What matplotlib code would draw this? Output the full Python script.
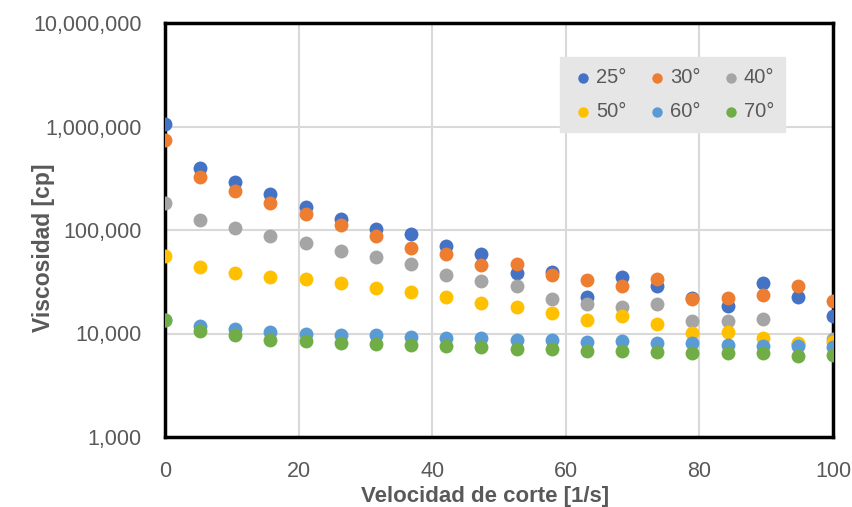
import matplotlib
matplotlib.use("Agg")
import matplotlib.pyplot as plt
from matplotlib.ticker import FixedLocator, FuncFormatter, NullLocator

x = [0, 5.26, 10.53, 15.79, 21.05, 26.32, 31.58, 36.84, 42.11, 47.37,
     52.63, 57.89, 63.16, 68.42, 73.68, 78.95, 84.21, 89.47, 94.74, 100]

v25 = [1050000, 394000, 288000, 222000, 167000, 129000, 102000, 91000, 70500, 58000,
       38500, 39000, 22500, 35000, 29000, 22000, 18600, 30800, 22500, 14900]
v30 = [743000, 327000, 239000, 182000, 142000, 111000, 87500, 67000, 59000, 45700,
       47000, 37000, 33000, 29000, 33600, 21700, 22000, 23400, 28600, 20800]
v40 = [184000, 124000, 104000, 87000, 75000, 63000, 55000, 46800, 37000, 32400,
       28600, 21700, 19300, 17900, 19300, 13300, 13300, 13800, 8000, 8900]
v50 = [55500, 44000, 38800, 35000, 33400, 30500, 27500, 25000, 22500, 19700,
       17900, 15700, 13400, 14600, 12400, 10100, 10450, 9100, 8050, 8360]
v60 = [13400, 11900, 11100, 10300, 9900, 9700, 9700, 9350, 9050, 9000,
       8700, 8700, 8360, 8500, 8050, 8050, 7760, 7640, 7640, 7480]
v70 = [13400, 10600, 9700, 8750, 8500, 8050, 7870, 7800, 7600, 7360,
       7040, 7040, 6840, 6840, 6580, 6440, 6440, 6440, 6100, 6200]

labels = ["25°", "30°", "40°", "50°", "60°", "70°"]
series = [v25, v30, v40, v50, v60, v70]
colors = ["#4472C4", "#ED7D31", "#A5A5A5", "#FFC000", "#5B9BD5", "#70AD47"]

x_ticks = [0, 20, 40, 60, 80, 100]
y_ticks = [1e3, 1e4, 1e5, 1e6, 1e7]

plt.rcParams['font.family'] = ['Liberation Sans', 'DejaVu Sans']

fig = plt.figure(figsize=(8.52, 5.07), dpi=100)
ax = fig.add_axes([165 / 852, 1 - 437 / 507, (833 - 165) / 852, (437 - 23) / 507])

handles = []
for lab, vals, c in zip(labels, series, colors):
    h = ax.scatter(x, vals, s=100, color=c, label=lab, zorder=3, linewidths=0)
    handles.append(h)

ax.set_yscale('log')
ax.set_xlim(0, 100)
ax.set_ylim(1e3, 1e7)
ax.xaxis.set_major_locator(FixedLocator(x_ticks))
ax.yaxis.set_major_locator(FixedLocator(y_ticks))
ax.yaxis.set_minor_locator(NullLocator())
ax.yaxis.set_major_formatter(FuncFormatter(lambda v, p: f"{int(round(v)):,}"))
ax.xaxis.set_major_formatter(FuncFormatter(lambda v, p: f"{int(v)}"))
ax.grid(True, color="#D9D9D9", linewidth=1.5, zorder=0)
ax.set_axisbelow(True)
for sp in ax.spines.values():
    sp.set_color("black")
    sp.set_linewidth(2.5)
ax.tick_params(length=0, labelsize=15.5, colors="#595959", pad=17)

ax.set_xlabel("Velocidad de corte [1/s]", fontsize=16, fontweight='bold', color="#595959")
ax.set_ylabel("Viscosidad [cp]", fontsize=16.5, fontweight='bold', color="#595959")
ax.xaxis.set_label_coords((485 - 165) / 668, (437 - 486) / 414)
ax.yaxis.set_label_coords((55 - 165) / 668, 1 - (248 - 23) / 414)

# row-major legend order (matplotlib fills column-first)
order = [0, 3, 1, 4, 2, 5]
leg = ax.legend([handles[i] for i in order], [labels[i] for i in order],
                ncol=3, loc='upper left', bbox_to_anchor=((560 - 165) / 668, 1 - (57 - 23) / 414),
                frameon=True, fontsize=14.5, handletextpad=0.05, columnspacing=0.9, borderpad=0.55,
                labelspacing=0.75, markerscale=0.75, handlelength=1.2, fancybox=False,
                borderaxespad=0)
leg.get_frame().set_facecolor("#E6E6E6")
leg.get_frame().set_edgecolor("#E6E6E6")
leg.get_frame().set_alpha(1)
for t in leg.get_texts():
    t.set_color("#595959")

fig.savefig("out.png", dpi=100)
